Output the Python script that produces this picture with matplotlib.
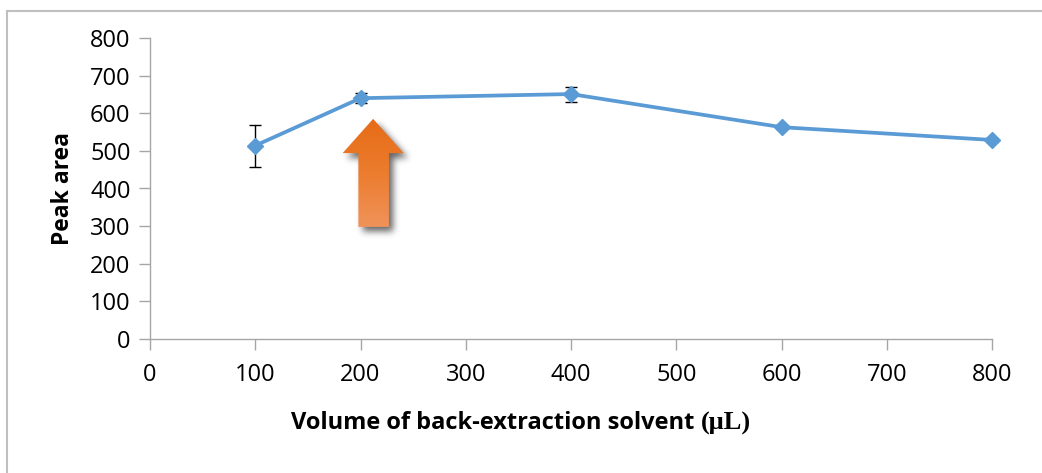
import numpy as np
import matplotlib
matplotlib.use("Agg")
import matplotlib.pyplot as plt
from matplotlib.patches import Polygon
from matplotlib.path import Path
from matplotlib.colors import LinearSegmentedColormap
from matplotlib.lines import Line2D

# ---- data ----
volume = [100, 200, 400, 600, 800]
peak_area = [514, 640, 651, 563, 529]
peak_err = [56, 13, 20, 6, 5]
x_ticks = [0, 100, 200, 300, 400, 500, 600, 700, 800]
y_ticks = [0, 100, 200, 300, 400, 500, 600, 700, 800]

W, H = 1042, 473
fig = plt.figure(figsize=(W / 100, H / 100), dpi=100)
plt.rcParams['font.family'] = ['Open Sans', 'DejaVu Sans']

ax = fig.add_axes([150 / W, 1 - 339 / H, (992 - 150) / W, (339 - 38) / H])

grey = '#A6A6A6'
line_color = '#5B9BD5'

eb = ax.errorbar(volume, peak_area, yerr=peak_err, fmt='none', ecolor='black',
                 elinewidth=1.0, capsize=4.5, capthick=1.0, zorder=2)
for art in eb.lines[1] + eb.lines[2]:
    art.set_clip_on(False)
ax.plot(volume, peak_area, color=line_color, lw=2.7, marker='D',
        markersize=8.5, markerfacecolor=line_color, markeredgecolor=line_color,
        zorder=3, clip_on=False)

ax.set_xlim(0, 800)
ax.set_ylim(0, 800)
ax.set_xticks(x_ticks)
ax.set_yticks(y_ticks)
ax.tick_params(axis='both', labelsize=17, colors=grey, labelcolor='black',
               length=8, width=1.0, direction='out')
ax.tick_params(axis='x', pad=9)
ax.tick_params(axis='y', pad=6)
for s in ['top', 'right']:
    ax.spines[s].set_visible(False)
for s in ['left', 'bottom']:
    ax.spines[s].set_color(grey)
    ax.spines[s].set_linewidth(1.0)

# y label
fig.text(63 / W, 1 - 188 / H, 'Peak area', rotation=90, ha='center', va='center',
         fontsize=16.5, fontweight='bold')

# x label: sans part + serif part
t1 = fig.text(291 / W, 1 - 423 / H, 'Volume of back-extraction solvent ', ha='left',
              va='center', fontsize=17, fontweight='bold')
fig.canvas.draw()
ax.annotate('(\u03bcL)', xy=(1, 0), xycoords=t1, ha='left', va='bottom',
            fontsize=19, fontweight='bold', family=['Liberation Serif'],
            annotation_clip=False)

# outer frame
fig.add_artist(Line2D([7 / W, 7 / W], [0, 1 - 11 / H], color='#BFBFBF', lw=1.5,
                      transform=fig.transFigure))
fig.add_artist(Line2D([7 / W, 1], [1 - 11 / H, 1 - 11 / H], color='#BFBFBF', lw=1.5,
                      transform=fig.transFigure))

# orange gradient arrow (annotation) in data coordinates
arrow_pts = np.array([
    [212, 585], [241, 494], [227, 494], [227, 298],
    [198, 298], [198, 494], [183, 494],
])

# soft blurred shadow
sx0, sx1, sy0, sy1 = 150, 280, 230, 620
nx, ny = 140, 150
gx = np.linspace(sx0, sx1, nx)
gy = np.linspace(sy0, sy1, ny)
GX, GY = np.meshgrid(gx, gy)
shadow_pts = arrow_pts + np.array([4.0, -14.0])
mask = Path(shadow_pts).contains_points(np.c_[GX.ravel(), GY.ravel()]).reshape(ny, nx).astype(float)
k = np.exp(-0.5 * (np.arange(-9, 10) / 3.5) ** 2)
k /= k.sum()
blur = np.apply_along_axis(lambda r: np.convolve(r, k, mode='same'), 1, mask)
blur = np.apply_along_axis(lambda c: np.convolve(c, k, mode='same'), 0, blur)
rgba = np.zeros((ny, nx, 4))
rgba[..., 3] = blur * 0.6
ax.imshow(rgba, extent=[sx0, sx1, sy0, sy1], origin='lower', aspect='auto',
          zorder=4, interpolation='bilinear')

cmap = LinearSegmentedColormap.from_list('og', ['#F0935A', '#EC7C2E', '#E66C17'])
grad = np.linspace(0, 1, 256).reshape(-1, 1)
im = ax.imshow(grad, extent=[183, 241, 298, 585], origin='lower', cmap=cmap,
               aspect='auto', zorder=5)
clip = Polygon(arrow_pts, closed=True, transform=ax.transData)
im.set_clip_path(clip)

ax.set_xlim(0, 800)
ax.set_ylim(0, 800)

fig.savefig('out.png', dpi=100)
